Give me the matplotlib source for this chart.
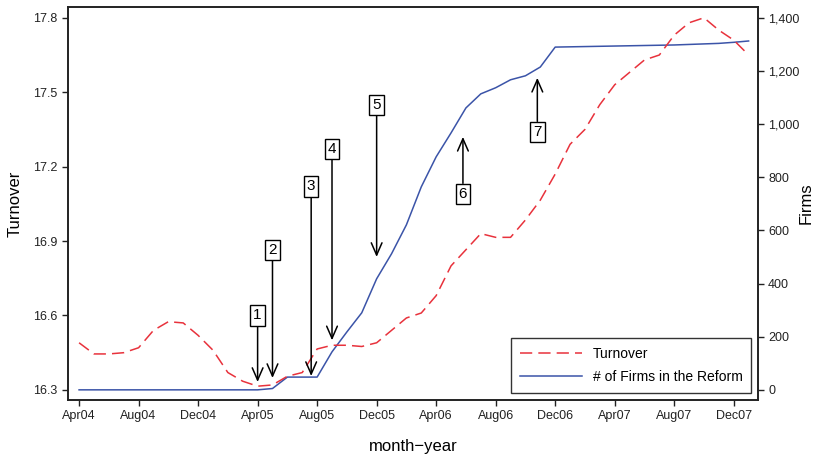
import matplotlib
matplotlib.use("Agg")
import matplotlib.pyplot as plt
from matplotlib.ticker import FuncFormatter

plt.rcParams['font.family'] = ['Liberation Sans', 'DejaVu Sans']

# month index 0 = Apr04
months = list(range(46))
tick_pos = [0, 4, 8, 12, 16, 20, 24, 28, 32, 36, 40, 44]
tick_labels = ["Apr04", "Aug04", "Dec04", "Apr05", "Aug05", "Dec05",
               "Apr06", "Aug06", "Dec06", "Apr07", "Aug07", "Dec07"]

turnover = [16.49, 16.445, 16.445, 16.45, 16.47, 16.54, 16.575, 16.57,
            16.52, 16.46, 16.37, 16.335, 16.315, 16.32, 16.355, 16.37,
            16.465, 16.48, 16.48, 16.475, 16.49, 16.54, 16.59, 16.61,
            16.68, 16.80, 16.865, 16.93, 16.915, 16.915, 16.985, 17.065,
            17.17, 17.29, 17.35, 17.45, 17.53, 17.58, 17.63, 17.65,
            17.73, 17.78, 17.80, 17.75, 17.71, 17.65]

firms = [0, 0, 0, 0, 0, 0, 0, 0, 0, 0, 0, 0, 0, 5, 48, 48,
         48, 143, 218, 290, 418, 512, 621, 764, 877, 967, 1061, 1114,
         1137, 1167, 1182, 1215, 1290, 1291, 1292, 1293, 1294, 1295, 1296, 1297,
         1298, 1300, 1302, 1304, 1308, 1313]

# annotations: label, x (month index), arrow tip y, box centre y (turnover units)
ann_labels = ["1", "2", "3", "4", "5", "6", "7"]
ann_x = [12, 13, 15.6, 17, 20, 25.8, 30.8]
ann_tip = [16.332, 16.348, 16.356, 16.50, 16.836, 17.32, 17.558]
ann_box = [16.60, 16.865, 17.12, 17.27, 17.45, 17.09, 17.34]

fig = plt.figure(figsize=(8.2, 4.58), dpi=100)
ax = fig.add_axes([0.083, 0.127, 0.841, 0.858])
ax2 = ax.twinx()

red = '#e8323c'
blue = '#3b54a8'
l1, = ax.plot(months, turnover, color=red, lw=1.1, dashes=(8, 4), label="Turnover")
l2, = ax2.plot(months, firms, color=blue, lw=1.1, label="# of Firms in the Reform")

ax.set_xlim(-0.74, 45.61)
ax.set_ylim(16.26, 17.844)
ax2.set_ylim(-37.6, 1441.4)
ax.set_yticks([16.3, 16.6, 16.9, 17.2, 17.5, 17.8])
ax.set_yticklabels(["16.3", "16.6", "16.9", "17.2", "17.5", "17.8"])
ax2.set_yticks([0, 200, 400, 600, 800, 1000, 1200, 1400])
ax2.yaxis.set_major_formatter(FuncFormatter(lambda v, p: f"{int(v):,}"))
ax.set_xticks(tick_pos)
ax.set_xticklabels(tick_labels)

for a in (ax, ax2):
    a.tick_params(direction='out', length=4, width=1, labelsize=9, colors='#222222')
    for s in a.spines.values():
        s.set_linewidth(1.2)
        s.set_color('#222222')

ax.set_xlabel("month\u2212year", fontsize=12, labelpad=12)
ax.set_ylabel("Turnover", fontsize=12, labelpad=8)
ax2.set_ylabel("Firms", fontsize=12)
ax2.yaxis.set_label_coords(1.060, 0.5)

for lab, x, tip, box in zip(ann_labels, ann_x, ann_tip, ann_box):
    ax.annotate(lab, xy=(x, tip), xytext=(x, box), ha='center', va='center',
                fontsize=11,
                bbox=dict(boxstyle='square,pad=0.2', fc='white', ec='black', lw=1),
                arrowprops=dict(arrowstyle='->,head_length=0.8,head_width=0.35',
                                color='black', lw=1.1, shrinkA=0, shrinkB=0),
                zorder=5)

leg = ax.legend(handles=[l1, l2], loc='lower right', bbox_to_anchor=(0.991, 0.018),
                fontsize=10, frameon=True, fancybox=False, edgecolor='black',
                handlelength=4.5, borderpad=0.65, labelspacing=0.65,
                handletextpad=0.75, borderaxespad=0)
leg.get_frame().set_linewidth(1)
leg.set_zorder(10)
ax.set_zorder(ax2.get_zorder() + 1)
ax.patch.set_visible(False)

fig.savefig("out.png", dpi=100)
